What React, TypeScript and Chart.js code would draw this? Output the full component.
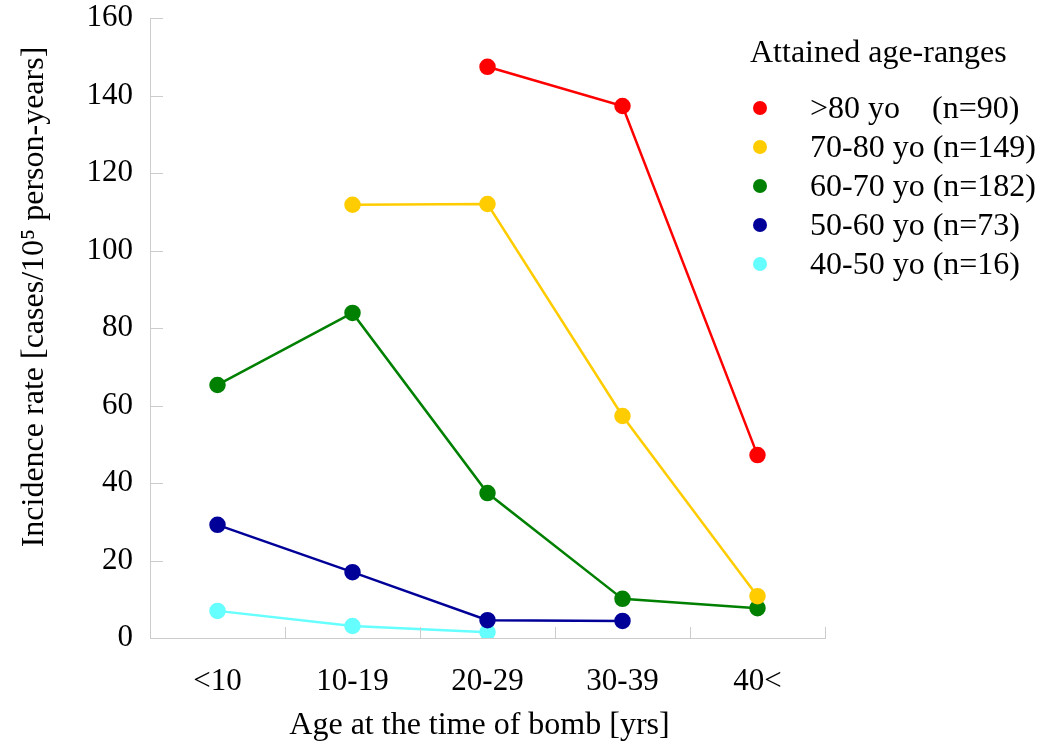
import React, { useEffect, useRef } from "react";
import { Chart, registerables } from "chart.js";

Chart.register(...registerables);

const categories = ["<10", "10-19", "20-29", "30-39", "40<"];
const yTicks = [0, 20, 40, 60, 80, 100, 120, 140, 160];

const over80 = [null, null, 147.4, 137.3, 47.2];
const age70to80 = [null, 111.8, 112.0, 57.3, 10.8];
const age60to70 = [65.3, 83.9, 37.4, 10.1, 7.7];
const age50to60 = [29.2, 17.0, 4.6, 4.4, null];
const age40to50 = [7.0, 3.1, 1.5, null, null];

const seriesLabels = [
  ">80 yo    (n=90)",
  "70-80 yo (n=149)",
  "60-70 yo (n=182)",
  "50-60 yo (n=73)",
  "40-50 yo (n=16)",
];
const seriesColors = ["#ff0000", "#ffcc00", "#008000", "#000099", "#66ffff"];
const seriesData = [over80, age70to80, age60to70, age50to60, age40to50];

const yTitle = "Incidence rate [cases/10⁵ person-years]";
const xTitle = "Age at the time of bomb [yrs]";

const FONT = "'Liberation Serif', 'Times New Roman', serif";

const innerTicks = {
  id: "innerTicks",
  afterDraw(chart: any) {
    const { ctx, chartArea, scales } = chart;
    const x = scales.x;
    const y = scales.y;
    ctx.save();
    ctx.strokeStyle = "#cccccc";
    ctx.lineWidth = 1;
    y.ticks.forEach((t: any) => {
      const py = Math.round(y.getPixelForValue(t.value)) + 0.5;
      ctx.beginPath();
      ctx.moveTo(chartArea.left, py);
      ctx.lineTo(chartArea.left + 13, py);
      ctx.stroke();
    });
    const n = categories.length;
    const step = x.getPixelForValue(1) - x.getPixelForValue(0);
    for (let i = 1; i <= n; i++) {
      const px = Math.round(x.getPixelForValue(i) - step / 2) + 0.5;
      ctx.beginPath();
      ctx.moveTo(px, chartArea.bottom);
      ctx.lineTo(px, chartArea.bottom - 11);
      ctx.stroke();
    }
    // axis titles
    ctx.fillStyle = "#000";
    ctx.font = `32px ${FONT}`;
    ctx.textAlign = "center";
    ctx.textBaseline = "middle";
    ctx.fillText(xTitle, (chartArea.left + chartArea.right) / 2 - 8, chartArea.bottom + 88);
    ctx.translate(chartArea.left - 115, chartArea.top + (chartArea.bottom - chartArea.top) * 0.45);
    ctx.rotate(-Math.PI / 2);
    ctx.fillText(yTitle, 0, 0);
    ctx.restore();
  },
};

export default function App() {
  const ref = useRef<HTMLCanvasElement>(null);
  useEffect(() => {
    const chart = new Chart(ref.current!, {
      type: "line",
      data: {
        labels: categories,
        datasets: seriesData.map((d, i) => ({
          label: seriesLabels[i],
          data: d,
          borderColor: seriesColors[i],
          backgroundColor: seriesColors[i],
          pointBackgroundColor: seriesColors[i],
          pointBorderColor: seriesColors[i],
          pointRadius: 7,
          borderWidth: 2.5,
          spanGaps: false,
          tension: 0,
        })),
      },
      plugins: [innerTicks],
      options: {
        responsive: false,
        animation: false,
        layout: { padding: { left: 0, top: 18, right: 236, bottom: 0 } },
        plugins: {
          legend: { display: false },
          tooltip: { enabled: false },
        },
        scales: {
          x: {
            type: "category",
            offset: true,
            grid: { display: false },
            border: { display: true, color: "#cccccc", width: 1 },
            ticks: { color: "#000", font: { family: FONT, size: 31 }, padding: 17, maxRotation: 0 },
            afterFit: (s: any) => {
              s.height = 108;
              s.paddingLeft = 0;
              s.paddingRight = 0;
            },
          },
          y: {
            min: 0,
            max: 160,
            afterBuildTicks: (s: any) => {
              s.ticks = yTicks.map((v) => ({ value: v }));
            },
            grid: { display: false },
            border: { display: true, color: "#cccccc", width: 1 },
            ticks: { color: "#000", font: { family: FONT, size: 31 }, padding: 9 },
            afterFit: (s: any) => {
              s.width = 150;
              s.paddingTop = 0;
              s.paddingBottom = 0;
            },
          },
        },
      },
    });
    return () => chart.destroy();
  }, []);

  return (
    <div style={{ position: "absolute", left: 0, top: 0, width: 1061, height: 746, background: "#fff" }}>
      <canvas ref={ref} width={1061} height={746} style={{ display: "block" }} />
      <div
        style={{
          position: "absolute",
          left: 750,
          top: 32,
          fontFamily: FONT,
          fontSize: 32,
          color: "#000",
          lineHeight: "39px",
          whiteSpace: "pre",
        }}
      >
        <div style={{ marginBottom: 17 }}>Attained age-ranges</div>
        {seriesLabels.map((l, i) => (
          <div key={l} style={{ display: "flex", alignItems: "center" }}>
            <span
              style={{
                display: "inline-block",
                width: 14,
                height: 14,
                borderRadius: "50%",
                background: seriesColors[i],
                marginLeft: 3,
                marginRight: 43,
              }}
            />
            <span>{l}</span>
          </div>
        ))}
      </div>
    </div>
  );
}
